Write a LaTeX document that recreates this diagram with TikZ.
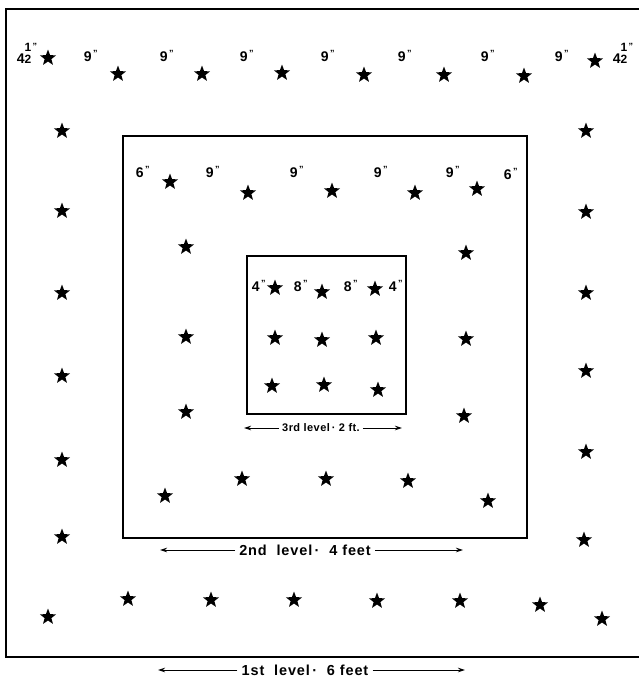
\documentclass[tikz,border=0pt]{standalone}
\usepackage{fontspec}
\setmainfont{Liberation Sans}
\usetikzlibrary{shapes.geometric,arrows.meta}
\tikzset{
  st/.style={star, star points=5, star point ratio=2.4, fill=black, draw=none, minimum size=17pt, inner sep=0pt},
  lab/.style={font=\bfseries\fontsize{14}{15}\selectfont, inner sep=0pt},
  big/.style={font=\bfseries\fontsize{14.5}{16}\selectfont\addfontfeature{LetterSpace=6}, inner sep=4pt},
  small/.style={font=\bfseries\fontsize{11}{12}\selectfont\addfontfeature{LetterSpace=4}, inner sep=3pt},
  box/.style={draw=black, line width=1.6pt},
  dim/.style={line width=0.9pt, -{Stealth[length=7pt,width=4.5pt]}}
}
\newcommand{\inch}[1]{#1\textsuperscript{\fontsize{9}{9}\selectfont\,"}}
\newcommand{\half}{4\fontsize{12}{12}\selectfont\shortstack{1\\2}\raisebox{2.2ex}{\fontsize{9}{9}\selectfont\,"}}
\begin{document}
\begin{tikzpicture}[x=1pt,y=-1pt]
\useasboundingbox (0,0) rectangle (639,681);
% boxes
\draw[box, line width=2pt] (639,9) -- (6,9) -- (6,657) -- (639,657);
\draw[box] (123,136) rectangle (527,538);
\draw[box] (247,256) rectangle (406,414);
% outer top row
\node[lab] (o0) at (27,53) {\half};
\node[st] (a1) at (48,58) {};
\node[lab] (l1) at (91,56) {\inch{9}};
\node[st] (a2) at (118,74) {};
\node[lab] (l2) at (167,56) {\inch{9}};
\node[st] (a3) at (202,74) {};
\node[lab] (l3) at (247,56) {\inch{9}};
\node[st] (a4) at (282,73) {};
\node[lab] (l4) at (328,56) {\inch{9}};
\node[st] (a5) at (364,75) {};
\node[lab] (l5) at (405,56) {\inch{9}};
\node[st] (a6) at (444,75) {};
\node[lab] (l6) at (488,56) {\inch{9}};
\node[st] (a7) at (524,76) {};
\node[lab] (l7) at (562,56) {\inch{9}};
\node[st] (a8) at (595,61) {};
\node[lab] (o9) at (623,53) {\half};
% outer left column
\node[st] (b1) at (62,131) {};
\node[st] (b2) at (62,211) {};
\node[st] (b3) at (62,293) {};
\node[st] (b4) at (62,376) {};
\node[st] (b5) at (62,460) {};
\node[st] (b6) at (62,537) {};
% outer right column
\node[st] (c1) at (586,131) {};
\node[st] (c2) at (586,212) {};
\node[st] (c3) at (586,293) {};
\node[st] (c4) at (586,371) {};
\node[st] (c5) at (586,452) {};
\node[st] (c6) at (584,540) {};
% outer bottom row
\node[st] (d1) at (48,617) {};
\node[st] (d2) at (128,599) {};
\node[st] (d3) at (211,600) {};
\node[st] (d4) at (294,600) {};
\node[st] (d5) at (377,601) {};
\node[st] (d6) at (460,601) {};
\node[st] (d7) at (540,605) {};
\node[st] (d8) at (602,619) {};
% middle top row
\node[lab] (m0) at (143,172) {\inch{6}};
\node[st] (e1) at (170,182) {};
\node[lab] (m1) at (213,172) {\inch{9}};
\node[st] (e2) at (248,193) {};
\node[lab] (m2) at (297,172) {\inch{9}};
\node[st] (e3) at (332,191) {};
\node[lab] (m3) at (381,172) {\inch{9}};
\node[st] (e4) at (415,193) {};
\node[lab] (m4) at (453,172) {\inch{9}};
\node[st] (e5) at (477,189) {};
\node[lab] (m5) at (511,174) {\inch{6}};
% middle columns
\node[st] (f1) at (186,247) {};
\node[st] (f2) at (186,337) {};
\node[st] (f3) at (186,412) {};
\node[st] (g1) at (466,253) {};
\node[st] (g2) at (466,339) {};
\node[st] (g3) at (464,416) {};
% middle bottom row
\node[st] (h1) at (165,496) {};
\node[st] (h2) at (242,479) {};
\node[st] (h3) at (326,479) {};
\node[st] (h4) at (408,481) {};
\node[st] (h5) at (488,501) {};
% inner
\node[lab] (n0) at (259,286) {\inch{4}};
\node[st] (i1) at (275,288) {};
\node[lab] (n1) at (301,286) {\inch{8}};
\node[st] (i2) at (322,292) {};
\node[lab] (n2) at (351,286) {\inch{8}};
\node[st] (i3) at (375,289) {};
\node[lab] (n3) at (396,286) {\inch{4}};
\node[st] (j1) at (275,338) {};
\node[st] (j2) at (322,340) {};
\node[st] (j3) at (376,338) {};
\node[st] (k1) at (272,386) {};
\node[st] (k2) at (324,385) {};
\node[st] (k3) at (378,390) {};
% dimension labels
\node[small] (t3) at (321,428) {3rd level\,\textperiodcentered\ 2 ft.};
\coordinate (t3l) at (244,428);
\coordinate (t3r) at (402,428);
\draw[dim] (t3.west) -- (t3l);
\draw[dim] (t3.east) -- (t3r);
\node[big] (t2) at (305,550) {2nd\ \ level\,\textperiodcentered\ \ 4 feet};
\coordinate (t2l) at (160,550);
\coordinate (t2r) at (463,550);
\draw[dim] (t2.west) -- (t2l);
\draw[dim] (t2.east) -- (t2r);
\node[big] (t1) at (305,670) {1st\ \ level\,\textperiodcentered\ \ 6 feet};
\coordinate (t1l) at (158,670);
\coordinate (t1r) at (465,670);
\draw[dim] (t1.west) -- (t1l);
\draw[dim] (t1.east) -- (t1r);
\end{tikzpicture}
\end{document}
